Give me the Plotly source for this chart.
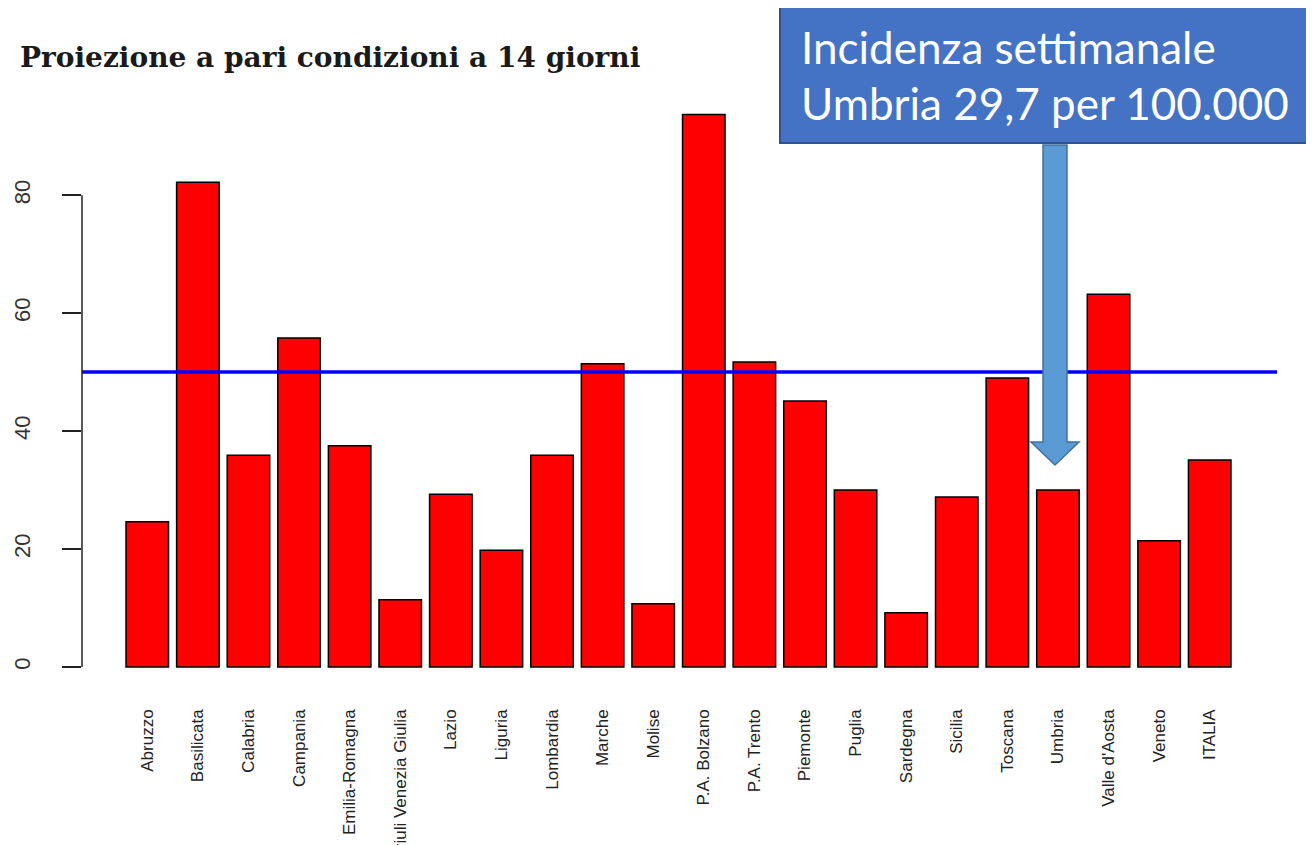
import plotly.graph_objects as go

regioni = ["Abruzzo", "Basilicata", "Calabria", "Campania", "Emilia-Romagna",
           "Friuli Venezia Giulia", "Lazio", "Liguria", "Lombardia", "Marche",
           "Molise", "P.A. Bolzano", "P.A. Trento", "Piemonte", "Puglia",
           "Sardegna", "Sicilia", "Toscana", "Umbria", "Valle d'Aosta",
           "Veneto", "ITALIA"]
incidenza = [24.6, 82.2, 35.9, 55.8, 37.5, 11.4, 29.3, 19.8, 35.9, 51.4,
             10.7, 93.7, 51.7, 45.1, 30.0, 9.2, 28.8, 49.0, 30.0, 63.2,
             21.4, 35.1]
soglia = 50
y_ticks = [0, 20, 40, 60, 80]

# page has an 8px body margin, so the figure is a bit smaller than the window
OFF = 8
W, H = 1314 - OFF, 845 - OFF
ML, MR, MT, MB = 82 - OFF, 37, 92 - OFF, 156


def px(x):
    # page x (pixels) -> paper x
    return (x - OFF - ML) / (W - ML - MR)


def py(y):
    # page y (pixels) -> paper y
    return (H - MB - (y - OFF)) / (H - MT - MB)


fig = go.Figure()
fig.add_trace(go.Bar(x=list(range(len(regioni))), y=incidenza,
                     marker=dict(color="#ff0000", line=dict(color="black", width=1.5))))

# threshold line and R-style y axis line
fig.add_shape(type="line", xref="paper", yref="y", x0=0, x1=1, y0=soglia, y1=soglia,
              line=dict(color="#0000ff", width=3.5))
fig.add_shape(type="line", xref="paper", yref="y", x0=0, x1=0, y0=min(y_ticks), y1=max(y_ticks),
              line=dict(color="#222222", width=1.5))

# callout box
fig.add_shape(type="rect", xref="paper", yref="paper", x0=px(780), x1=px(1313), y0=py(143), y1=py(7),
              fillcolor="#4472c4", line=dict(color="#2f528f", width=2))
fig.add_annotation(xref="paper", yref="paper", x=px(799), y=py(47), xanchor="left", yanchor="middle",
                   text="Incidenza settimanale", showarrow=False,
                   font=dict(family="Lato", size=44, color="white"))
fig.add_annotation(xref="paper", yref="paper", x=px(799), y=py(103), xanchor="left", yanchor="middle",
                   text="Umbria 29,7 per 100.000", showarrow=False,
                   font=dict(family="Lato", size=44, color="white"))

# down arrow
ax = 1055
arrow = (f"M {px(ax-12)} {py(145)} L {px(ax+12)} {py(145)} L {px(ax+12)} {py(442)} "
         f"L {px(ax+24)} {py(442)} L {px(ax)} {py(465)} L {px(ax-24)} {py(442)} "
         f"L {px(ax-12)} {py(442)} Z")
fig.add_shape(type="path", xref="paper", yref="paper", path=arrow,
              fillcolor="#5b9bd5", line=dict(color="#41719c", width=1.5))

fig.update_layout(
    width=W, height=H,
    margin=dict(l=ML, r=MR, t=MT, b=MB, autoexpand=False),
    paper_bgcolor="white", plot_bgcolor="white",
    showlegend=False, bargap=0.16,
    title=dict(text="<b>Proiezione a pari condizioni a 14 giorni</b>",
               xref="container", yref="container", x=(20 - OFF) / W, xanchor="left",
               y=1 - (57 - OFF) / H, yanchor="middle",
               font=dict(family="DejaVu Serif", size=28, color="#1a1a1a")),
)
fig.update_xaxes(range=[-1.29, 22.33], tickmode="array",
                 tickvals=list(range(len(regioni))), ticktext=regioni,
                 tickangle=-90, showgrid=False, zeroline=False, showline=False,
                 ticks="", ticklabelstandoff=16, automargin=False,
                 tickfont=dict(family="Liberation Sans", size=17, color="#222222"))
fig.update_yaxes(range=[-3.75, 97.5], tickmode="array", tickvals=y_ticks,
                 ticks="outside", ticklen=19, tickwidth=1.5, tickcolor="#222222",
                 tickangle=-90, showgrid=False, zeroline=False, showline=False,
                 ticklabelstandoff=23, automargin=False,
                 tickfont=dict(family="Liberation Sans", size=22, color="#333333"))

fig.write_html("out.html")
